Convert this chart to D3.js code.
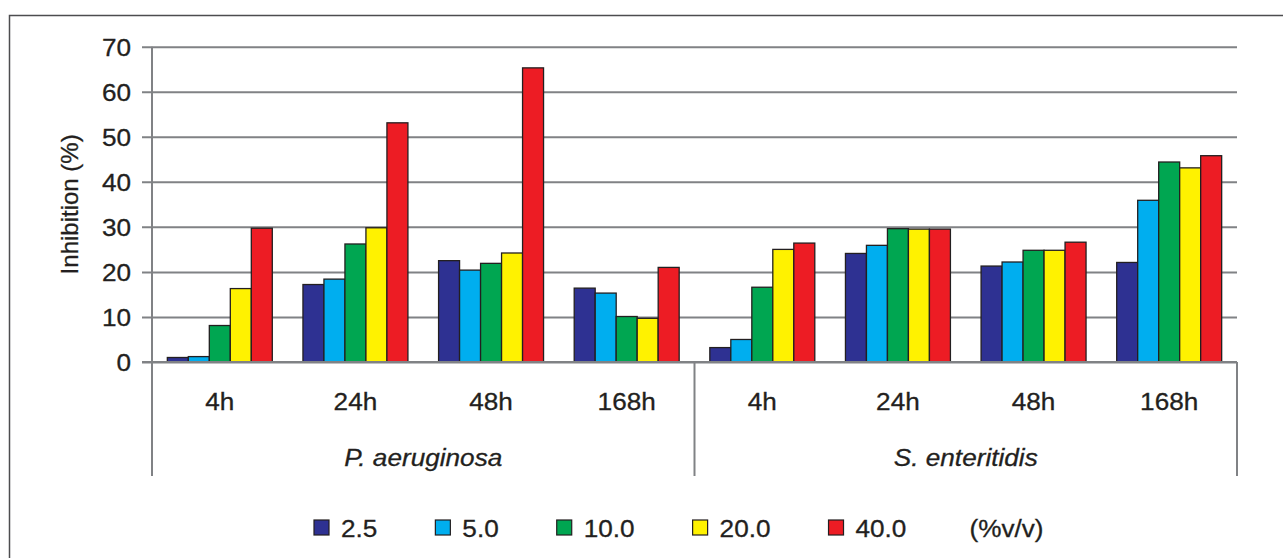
<!DOCTYPE html>
<html>
<head>
<meta charset="utf-8">
<script src="https://cdn.jsdelivr.net/npm/d3@7"></script>
<style>
  html, body { margin: 0; padding: 0; background: #fff; }
  svg { display: block; }
  text { font-family: "Liberation Sans", Arial, Helvetica, sans-serif; fill: #231F20; stroke: #231F20; stroke-width: 0.3px; }
</style>
</head>
<body>
<svg id="chart" width="1283" height="558"></svg>
<script>
// ---- data ----
const species = ["P. aeruginosa", "S. enteritidis"];
const times = ["4h", "24h", "48h", "168h"];
const concentrations = ["2.5", "5.0", "10.0", "20.0", "40.0"];
const concentrationUnit = "(%v/v)";
// values ordered: P.4h, P.24h, P.48h, P.168h, S.4h, S.24h, S.48h, S.168h
const conc2_5  = [1.0, 17.2, 22.5, 16.4, 3.2, 24.1, 21.3, 22.1];
const conc5_0  = [1.2, 18.4, 20.4, 15.3, 5.0, 25.9, 22.2, 35.9];
const conc10_0 = [8.1, 26.2, 21.9, 10.1, 16.6, 29.6, 24.8, 44.4];
const conc20_0 = [16.3, 29.8, 24.2, 9.7, 25.0, 29.5, 24.8, 43.1];
const conc40_0 = [29.7, 53.1, 65.3, 21.0, 26.4, 29.5, 26.6, 45.8];
const yTicks = [0, 10, 20, 30, 40, 50, 60, 70];
const yLabel = "Inhibition (%)";
const colors = ["#2E3192", "#00AEEF", "#00A651", "#FFF200", "#ED1C24"];

const seriesValues = [conc2_5, conc5_0, conc10_0, conc20_0, conc40_0];
const groups = [];
species.forEach((s, si) => times.forEach((t, ti) => groups.push({ key: s + "|" + t, species: s, time: t, idx: si * times.length + ti })));

// ---- layout ----
const svg = d3.select("#chart");
const plotLeft = 152, plotRight = 1237, plotTop = 46.7, plotBottom = 362, axisBottom = 476;
const gridColor = "#808285";
const fontSize = 24;
const sx = 1.09; // horizontal glyph stretch

function hText(sel, x, yv, str, anchor) {
  return sel.append("text")
    .attr("transform", `translate(${x},${yv}) scale(${sx},1)`)
    .attr("text-anchor", anchor || "start")
    .style("font-size", fontSize + "px")
    .text(str);
}

// outer border (left and top only visible)
svg.append("path").attr("d", `M9.5,558 V15.5 H1283`).attr("fill", "none").attr("stroke", "#4D4D4F").attr("stroke-width", 1.5);

const y = d3.scaleLinear().domain([0, 70]).range([plotBottom, plotTop]);
const x0 = d3.scaleBand().domain(groups.map(g => g.key)).range([plotLeft, plotRight]).paddingInner(0).paddingOuter(0);
const x1 = d3.scaleBand().domain(concentrations).range([0, x0.bandwidth()]).paddingInner(0).paddingOuter(0.73);
const color = d3.scaleOrdinal().domain(concentrations).range(colors);

// gridlines + ticks via axis
const yAxis = d3.axisLeft(y).tickValues(yTicks).tickSize(-(plotRight - plotLeft)).tickFormat(d3.format("d"));
const gy = svg.append("g").attr("transform", `translate(${plotLeft},0)`).call(yAxis);
gy.select(".domain").remove();
gy.selectAll(".tick line").attr("stroke", gridColor).attr("stroke-width", 2).attr("x1", -10);
gy.selectAll(".tick text").attr("x", 0).attr("dy", "0.35em")
  .attr("transform", `translate(-21,0) scale(${sx},1)`)
  .style("font-size", fontSize + "px")
  .style("font-family", "'Liberation Sans', Arial, sans-serif").attr("fill", "#231F20");

// y axis vertical line extending down into category area
svg.append("line").attr("x1", plotLeft).attr("x2", plotLeft).attr("y1", plotTop).attr("y2", axisBottom)
  .attr("stroke", gridColor).attr("stroke-width", 2);
// species dividers
const speciesEnds = species.map(s => x0(s + "|" + times[times.length - 1]) + x0.bandwidth());
speciesEnds.forEach(xp => {
  svg.append("line").attr("x1", xp).attr("x2", xp).attr("y1", plotBottom).attr("y2", axisBottom)
    .attr("stroke", gridColor).attr("stroke-width", 2);
});

// bars
const gBars = svg.append("g");
groups.forEach(g => {
  const gg = gBars.append("g").attr("transform", `translate(${x0(g.key)},0)`);
  concentrations.forEach((c, ci) => {
    const v = seriesValues[ci][g.idx];
    gg.append("rect")
      .attr("x", x1(c))
      .attr("y", y(v))
      .attr("width", x1.bandwidth())
      .attr("height", y(0) - y(v))
      .attr("fill", color(c))
      .attr("stroke", "#231F20")
      .attr("stroke-width", 1.3);
  });
});
// redraw zero line on top
svg.append("line").attr("x1", plotLeft - 10).attr("x2", plotRight).attr("y1", plotBottom).attr("y2", plotBottom)
  .attr("stroke", gridColor).attr("stroke-width", 2);

// time labels
groups.forEach(g => {
  hText(svg, x0(g.key) + x0.bandwidth() / 2, 410, g.time, "middle");
});
// species labels
species.forEach(s => {
  const xs = x0(s + "|" + times[0]);
  const xe = x0(s + "|" + times[times.length - 1]) + x0.bandwidth();
  hText(svg, (xs + xe) / 2, 466, s, "middle").style("font-style", "italic");
});

// y label
svg.append("text").attr("transform", `translate(78,${(plotTop + plotBottom) / 2}) rotate(-90)`)
  .attr("text-anchor", "middle").style("font-size", fontSize + "px").text(yLabel);

// legend
const legend = svg.append("g");
let lx = 314;
concentrations.forEach(c => {
  legend.append("rect").attr("x", lx).attr("y", 520).attr("width", 15).attr("height", 15)
    .attr("fill", color(c)).attr("stroke", "#231F20").attr("stroke-width", 1.2);
  const t = hText(legend, lx + 27, 537, c);
  lx = lx + 27 + t.node().getComputedTextLength() * sx + 58;
});
hText(legend, lx + 5, 537, concentrationUnit);
</script>
</body>
</html>
